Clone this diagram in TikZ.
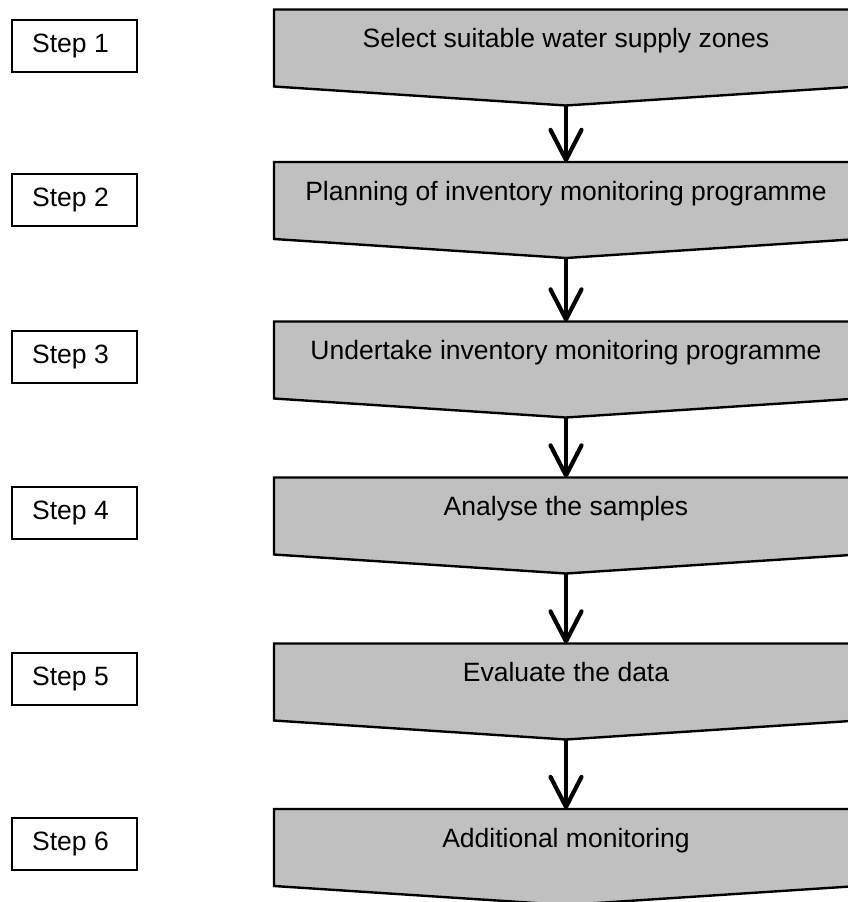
\documentclass[tikz,border=0pt]{standalone}
\usepackage{fontspec}
\setmainfont{Liberation Sans}
\usetikzlibrary{arrows.meta}
\definecolor{stagegray}{HTML}{C0C0C0}
\begin{document}
\begin{tikzpicture}[x=1pt,y=-1pt,
  labelfont/.style={font=\fontsize{26.5}{31}\selectfont},
  stage/.style={draw=black, line width=2.4pt, fill=stagegray, line join=miter},
  stagetext/.style={labelfont, anchor=base, inner sep=0pt},
  stepbox/.style={labelfont, draw=black, line width=2pt, fill=white,
    minimum width=125pt, minimum height=52pt, inner sep=0pt},
  flow/.style={line width=4.2pt,
    -{Straight Barb[length=30pt,width=31pt,line cap=round,line join=round]}}]
\useasboundingbox (0,0) rectangle (848,902);
\clip (0,0) rectangle (848,902);

% step labels on the left (text sits slightly left of the box centre)
\newcommand\steplabel[1]{\hspace*{-8pt}#1}
\node[stepbox] (step1) at (74.5,46)    {\steplabel{Step 1}};
\node[stepbox] (step2) at (74.5,200)   {\steplabel{Step 2}};
\node[stepbox] (step3) at (74.5,356.5) {\steplabel{Step 3}};
\node[stepbox] (step4) at (74.5,513)   {\steplabel{Step 4}};
\node[stepbox] (step5) at (74.5,678.5) {\steplabel{Step 5}};
\node[stepbox] (step6) at (74.5,844)   {\steplabel{Step 6}};

% pentagon-shaped stages: top edge, sides 77 deep, point 19 below
\foreach \i/\t/\txt in {
  1/9.5/Select suitable water supply zones,
  2/162/Planning of inventory monitoring programme,
  3/321.5/Undertake inventory monitoring programme,
  4/477.5/Analyse the samples,
  5/643.5/Evaluate the data,
  6/809/Additional monitoring}{
  \draw[stage] (274,\t) -- (858,\t) -- (858,\t+77) -- (566,\t+96)
    -- (274,\t+77) -- cycle;
  \coordinate (top\i) at (566,\t);
  \coordinate (tip\i) at (566,\t+96);
  \node[stagetext] (stage\i) at (566,\t+38) {\txt};
}

% arrows between consecutive stages
\draw[flow] (tip1) -- (top2);
\draw[flow] (tip2) -- (top3);
\draw[flow] (tip3) -- (top4);
\draw[flow] (tip4) -- (top5);
\draw[flow] (tip5) -- (top6);
\end{tikzpicture}
\end{document}
